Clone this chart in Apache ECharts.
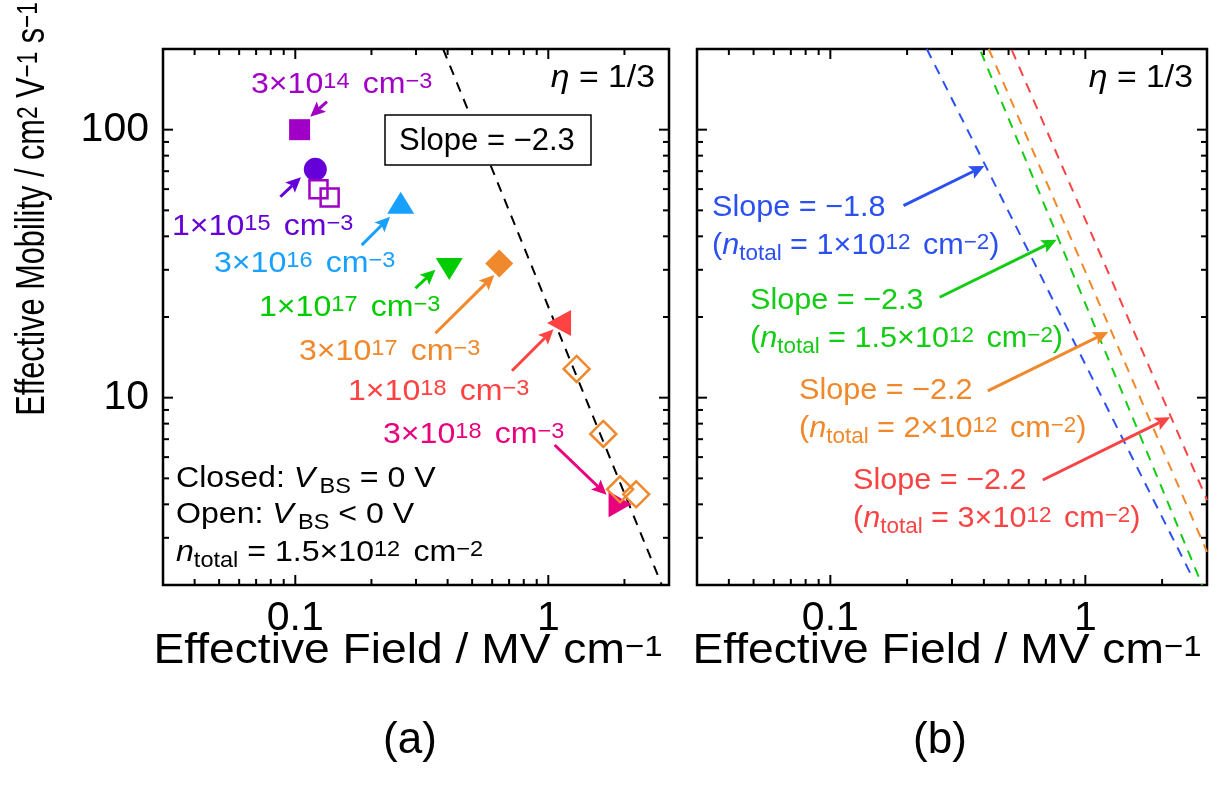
<!DOCTYPE html>
<html><head><meta charset="utf-8">
<script src="https://cdn.jsdelivr.net/npm/echarts@6/dist/echarts.min.js"></script>
<style>html,body{margin:0;padding:0;background:#fff}#c{width:1219px;height:787px}</style>
</head><body><div id="c"></div>
<script>
// ---------- data ----------
const X_RANGE = [0.03, 3];
const Y_RANGE = [2, 200];
const xMajorTicks = [0.1, 1];
const xTickLabels = ['0.1', '1'];
const xMinorTicks = [0.04,0.05,0.06,0.07,0.08,0.09,0.2,0.3,0.4,0.5,0.6,0.7,0.8,0.9,2];
const yMajorTicks = [10, 100];
const yTickLabels = ['10', '100'];
const yMinorTicks = [3,4,5,6,7,8,9,20,30,40,50,60,70,80,90];

// panel (a) measured points  [field MV/cm, mobility cm2/Vs]
const closed3e14 = [[0.104, 100]];
const closed1e15 = [[0.120, 71.1]];
const open1e15 = [[0.1235, 60.0], [0.1367, 55.8]];
const closed3e16 = [[0.261, 53.4]];
const closed1e17 = [[0.406, 30.2]];
const closed3e17 = [[0.640, 31.7]];
const closed1e18 = [[1.103, 19.0]];
const closed3e18 = [[1.922, 4.0]];
const open3e17 = [[1.294, 12.8], [1.65, 7.32], [1.922, 4.55], [2.225, 4.36]];
const fitA = [[0.384, 200], [2.81, 2]];

// panel (b) fitted lines
const lineN1 = [[0.239, 200], [2.62, 2.15]];
const lineN15 = [[0.3895, 195], [2.87, 2]];
const lineN2 = [[0.418, 200], [3, 2.66]];
const lineN3 = [[0.515, 198], [3, 4.15]];

// annotation arrows [x1,y1,x2,y2]
const arrowsA = [
  [0.1334, 127.2, 0.1146, 111.8],
  [0.0873, 56.2, 0.1053, 66.4],
  [0.183, 37.1, 0.237, 47.3],
  [0.2984, 25.6, 0.358, 30.0],
  [0.358, 17.4, 0.612, 28.7],
  [0.719, 12.6, 1.049, 18.0],
  [1.06, 6.66, 1.70, 4.34]
];
const arrowsB = [
  [0.1936, 52.1, 0.402, 73.2],
  [0.2684, 23.7, 0.7716, 38.8],
  [0.4146, 10.6, 1.229, 17.6],
  [0.681, 4.93, 2.15, 8.45]
];

// ---------- styles ----------
const FONT = 'Liberation Sans, Arial, Helvetica, sans-serif';
const C = {purple:'#a000c6', violet:'#6600d8', sky:'#18a0ff', green:'#00cc00', orange:'#f0882c', red:'#ff4242', magenta:'#e8007e',
           bBlue:'#2b50f2', bGreen:'#14cc14', bOrange:'#f0882c', bRed:'#f84444'};
const arrowColorsA = [C.purple, C.violet, C.sky, C.green, C.orange, C.red, C.magenta];
const arrowColorsB = [C.bBlue, C.bGreen, C.bOrange, C.bRed];

const GRIDS = [
  {left: 163, top: 49, width: 506, height: 536},
  {left: 697, top: 49, width: 510, height: 536}
];

function majorLabel(v, ticks, labels) {
  for (let i = 0; i < ticks.length; i++) {
    if (Math.abs(Math.log10(v) - Math.log10(ticks[i])) < 1e-6) return labels[i];
  }
  return '';
}

const tickData = [].concat(
  xMajorTicks.map(v => [v, Y_RANGE[0], 0]),
  xMinorTicks.map(v => [v, Y_RANGE[0], 1]),
  yMajorTicks.map(v => [X_RANGE[0], v, 2]),
  yMinorTicks.map(v => [X_RANGE[0], v, 3])
);

function tickSeries(gi) {
  return {
    type: 'custom', xAxisIndex: gi, yAxisIndex: gi, clip: false, silent: true, z: 5,
    data: tickData,
    renderItem(params, api) {
      const kind = api.value(2);
      const st = {stroke: '#000', lineWidth: 2};
      if (kind < 2) {
        const v = api.value(0);
        const b = api.coord([v, Y_RANGE[0]]), t = api.coord([v, Y_RANGE[1]]);
        const L = kind === 0 ? 10 : 6;
        return {type: 'group', children: [
          {type: 'line', shape: {x1: b[0], y1: b[1], x2: b[0], y2: b[1] - L}, style: st},
          {type: 'line', shape: {x1: t[0], y1: t[1], x2: t[0], y2: t[1] + L}, style: st}
        ]};
      } else {
        const v = api.value(1);
        const l = api.coord([X_RANGE[0], v]), r = api.coord([X_RANGE[1], v]);
        const L = kind === 2 ? 10 : 6;
        return {type: 'group', children: [
          {type: 'line', shape: {x1: l[0], y1: l[1], x2: l[0] + L, y2: l[1]}, style: st},
          {type: 'line', shape: {x1: r[0], y1: r[1], x2: r[0] - L, y2: r[1]}, style: st}
        ]};
      }
    }
  };
}

function arrowSeries(gi, data, colors) {
  return {
    type: 'custom', xAxisIndex: gi, yAxisIndex: gi, clip: false, silent: true, z: 8,
    encode: {x: [0, 2], y: [1, 3]},
    data: data,
    renderItem(params, api) {
      const p1 = api.coord([api.value(0), api.value(1)]);
      const p2 = api.coord([api.value(2), api.value(3)]);
      const color = colors[params.dataIndex];
      const dx = p2[0] - p1[0], dy = p2[1] - p1[1];
      const len = Math.sqrt(dx * dx + dy * dy);
      const ux = dx / len, uy = dy / len, nx = -uy, ny = ux;
      const HL = 15, HW = 7;
      const bx = p2[0] - ux * HL, by = p2[1] - uy * HL;
      return {type: 'group', children: [
        {type: 'line', shape: {x1: p1[0], y1: p1[1], x2: bx + ux * 3, y2: by + uy * 3}, style: {stroke: color, lineWidth: 3}},
        {type: 'polygon', shape: {points: [[p2[0], p2[1]], [bx + nx * HW, by + ny * HW], [bx + ux * 3, by + uy * 3], [bx - nx * HW, by - ny * HW]]}, style: {fill: color}}
      ]};
    }
  };
}

function scatter(data, symbol, size, color, rotate, open) {
  return {
    type: 'scatter', xAxisIndex: 0, yAxisIndex: 0, data: data, symbol: symbol, symbolSize: size,
    symbolRotate: rotate || 0, z: 10, silent: true,
    itemStyle: open ? {color: 'rgba(255,255,255,0)', borderColor: color, borderWidth: 2.5, opacity: 1} : {color: color, opacity: 1}
  };
}

function dashLine(gi, data, color) {
  return {type: 'line', xAxisIndex: gi, yAxisIndex: gi, data: data, symbol: 'none', clip: true, silent: true, z: 3,
          lineStyle: {color: color, width: 2, type: [10, 8]}};
}

// rich text helper
function richSet(color, F, supGap) {
  const S = Math.round(F * 0.72);
  const base = {fontFamily: FONT, fill: color};
  const pb = Math.round(F * 0.2);
  return {
    n: Object.assign({}, base, {fontSize: F, lineHeight: F + 10}),
    i: Object.assign({}, base, {fontSize: F, lineHeight: F + 10, fontStyle: 'italic'}),
    sup: Object.assign({}, base, {fontSize: S, lineHeight: S, padding: [0, 0, pb, 0]}),
    supg: Object.assign({}, base, {fontSize: S, lineHeight: S, padding: [0, supGap || 0, pb, 0]}),
    sub: Object.assign({}, base, {fontSize: S, lineHeight: S, padding: [Math.round(F * 0.58), 0, 0, 0]}),
    subv: Object.assign({}, base, {fontSize: S, lineHeight: S, padding: [Math.round(F * 0.58), 0, 0, 4]})
  };
}
function txt(x, baseline, text, color, F, align, sx, supGap) {
  return {
    type: 'text', x: x, y: baseline - 0.3465 * F, z: 100, silent: true, scaleX: sx || 1,
    style: {text: text, rich: richSet(color, F, supGap), fill: color, fontSize: F, fontFamily: FONT,
            align: align || 'left', verticalAlign: 'middle'}
  };
}

const SA = 1.07, SB = 1.02, GAP = 4;
const graphics = [
  // slope box panel (a)
  {type: 'rect', shape: {x: 385, y: 115, width: 206, height: 50}, style: {fill: '#fff', stroke: '#000', lineWidth: 1.5}, z: 90, silent: true},
  txt(399, 152, '{n|Slope = −2.3}', '#000', 31),
  txt(655, 89, '{i|η}{n| = 1/3}', '#000', 31, 'right', 1.09),
  txt(1193, 89, '{i|η}{n| = 1/3}', '#000', 31, 'right', 1.09),
  // doping labels
  txt(251, 95, '{n|3×10}{supg|14}{n| cm}{sup|−3}', C.purple, 30, 'left', SA, GAP),
  txt(172, 237, '{n|1×10}{supg|15}{n| cm}{sup|−3}', C.violet, 30, 'left', SA, GAP),
  txt(214, 274, '{n|3×10}{supg|16}{n| cm}{sup|−3}', C.sky, 30, 'left', SA, GAP),
  txt(259, 318, '{n|1×10}{supg|17}{n| cm}{sup|−3}', C.green, 30, 'left', SA, GAP),
  txt(299, 362, '{n|3×10}{supg|17}{n| cm}{sup|−3}', C.orange, 30, 'left', SA, GAP),
  txt(348, 402, '{n|1×10}{supg|18}{n| cm}{sup|−3}', C.red, 30, 'left', SA, GAP),
  txt(383, 445, '{n|3×10}{supg|18}{n| cm}{sup|−3}', C.magenta, 30, 'left', SA, GAP),
  // conditions
  txt(176, 489, '{n|Closed: }{i|V}{subv|BS}{n| = 0 V}', '#000', 30, 'left', SA),
  txt(176, 525, '{n|Open: }{i|V}{subv|BS}{n| < 0 V}', '#000', 30, 'left', SA),
  txt(176, 563, '{i|n}{sub|total}{n| = 1.5×10}{supg|12}{n| cm}{sup|−2}', '#000', 30, 'left', SA, GAP),
  // panel (b) labels
  txt(712, 218, '{n|Slope = −1.8}', C.bBlue, 30, 'left', SB),
  txt(712, 256, '{n|(}{i|n}{sub|total}{n| = 1×10}{supg|12}{n| cm}{sup|−2}{n|)}', C.bBlue, 30, 'left', SB, GAP),
  txt(750, 311, '{n|Slope = −2.3}', C.bGreen, 30, 'left', SB),
  txt(750, 349, '{n|(}{i|n}{sub|total}{n| = 1.5×10}{supg|12}{n| cm}{sup|−2}{n|)}', C.bGreen, 30, 'left', SB, GAP),
  txt(799, 401, '{n|Slope = −2.2}', C.bOrange, 30, 'left', SB),
  txt(799, 439, '{n|(}{i|n}{sub|total}{n| = 2×10}{supg|12}{n| cm}{sup|−2}{n|)}', C.bOrange, 30, 'left', SB, GAP),
  txt(853, 491, '{n|Slope = −2.2}', C.bRed, 30, 'left', SB),
  txt(853, 529, '{n|(}{i|n}{sub|total}{n| = 3×10}{supg|12}{n| cm}{sup|−2}{n|)}', C.bRed, 30, 'left', SB, GAP),
  // axis titles
  txt(408, 666, '{n|Effective Field / MV cm}{sup|−1}', '#000', 42, 'center', 1.1),
  txt(947, 666, '{n|Effective Field / MV cm}{sup|−1}', '#000', 42, 'center', 1.1),
  {type: 'text', x: 33, y: 209, rotation: Math.PI / 2, scaleX: 0.75, z: 100, silent: true,
   style: {text: '{n|Effective Mobility / cm}{sup|2}{n| V}{sup|−1}{n| s}{sup|−1}', rich: richSet('#000', 41),
           fill: '#000', fontSize: 41, fontFamily: FONT, align: 'center', verticalAlign: 'middle'}},
  txt(410, 756, '{n|(a)}', '#000', 44, 'center'),
  txt(940, 756, '{n|(b)}', '#000', 44, 'center')
];

function xAxisCfg(gi, showLabel) {
  return {type: 'log', logBase: 10, gridIndex: gi, min: X_RANGE[0], max: X_RANGE[1],
    axisLine: {show: false}, axisTick: {show: false}, splitLine: {show: false}, minorTick: {show: false},
    axisLabel: {show: showLabel, fontSize: 41, color: '#000', fontFamily: FONT, margin: 13,
      showMinLabel: true, showMaxLabel: true, hideOverlap: false,
      formatter: v => majorLabel(v, xMajorTicks, xTickLabels)}};
}
function yAxisCfg(gi, showLabel) {
  return {type: 'log', logBase: 10, gridIndex: gi, min: Y_RANGE[0], max: Y_RANGE[1],
    axisLine: {show: false}, axisTick: {show: false}, splitLine: {show: false}, minorTick: {show: false},
    axisLabel: {show: showLabel, fontSize: 41, color: '#000', fontFamily: FONT, margin: 14,
      hideOverlap: false,
      formatter: v => majorLabel(v, yMajorTicks, yTickLabels)}};
}

const option = {
  animation: false,
  backgroundColor: '#fff',
  grid: GRIDS.map(g => Object.assign({show: true, borderColor: '#000', borderWidth: 2.5, backgroundColor: 'transparent', containLabel: false}, g)),
  xAxis: [xAxisCfg(0, true), xAxisCfg(1, true)],
  yAxis: [yAxisCfg(0, true), yAxisCfg(1, false)],
  series: [
    tickSeries(0), tickSeries(1),
    dashLine(0, fitA, '#000'),
    dashLine(1, lineN1, C.bBlue),
    dashLine(1, lineN15, C.bGreen),
    dashLine(1, lineN2, C.bOrange),
    dashLine(1, lineN3, C.bRed),
    scatter(closed3e14, 'rect', 21, C.purple),
    scatter(closed1e15, 'circle', 23, C.violet),
    scatter(open1e15, 'rect', 18, C.purple, 0, true),
    scatter(closed3e16, 'triangle', [27, 22], C.sky),
    scatter(closed1e17, 'triangle', [27, 22], C.green, 180),
    scatter(closed3e17, 'diamond', [28, 28], C.orange),
    scatter(closed1e18, 'triangle', [26, 24], C.red, 90),
    scatter(closed3e18, 'triangle', [26, 23], C.magenta, -90),
    scatter(open3e17, 'diamond', [26, 26], C.orange, 0, true),
    arrowSeries(0, arrowsA, arrowColorsA),
    arrowSeries(1, arrowsB, arrowColorsB)
  ],
  graphic: graphics
};

const chart = echarts.init(document.getElementById('c'), null, {renderer: 'canvas'});
chart.setOption(option);
</script></body></html>
